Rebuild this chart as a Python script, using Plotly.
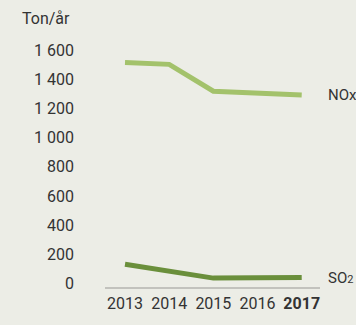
import plotly.graph_objects as go

years = [2013, 2014, 2015, 2016, 2017]
year_labels = ["2013", "2014", "2015", "2016", "<b>2017</b>"]
nox = [1518, 1505, 1320, 1310, 1294]
so2 = [130, 82, 35, 37, 39]
y_ticks = [0, 200, 400, 600, 800, 1000, 1200, 1400, 1600]

BG = "#ECEDE6"
NOX_COLOR = "#A3C26B"
SO2_COLOR = "#6A8F3B"
AXIS_COLOR = "#C2C2BD"
TEXT = "#333333"
FONT = "Roboto"

fig = go.Figure()
fig.add_trace(go.Scatter(x=years, y=nox, mode="lines",
                         line=dict(color=NOX_COLOR, width=5), hoverinfo="skip"))
fig.add_trace(go.Scatter(x=years, y=so2, mode="lines",
                         line=dict(color=SO2_COLOR, width=5), hoverinfo="skip"))

# Baseline along the bottom of the plotting area
fig.add_shape(type="line", xref="paper", yref="paper", x0=0, x1=1, y0=0, y1=0,
              line=dict(color=AXIS_COLOR, width=2), layer="above")

# Series names placed at the end of each line
fig.add_annotation(text="NOx", xref="paper", yref="y", x=1.028, y=nox[-1],
                   xanchor="left", yanchor="middle", showarrow=False,
                   font=dict(family=FONT, size=15, color=TEXT))
fig.add_annotation(text="SO<span style='font-size:11px'>2</span>", xref="paper", yref="y",
                   x=1.028, y=so2[-1], xanchor="left", yanchor="middle", showarrow=False,
                   font=dict(family=FONT, size=15, color=TEXT))
# Unit label above the y tick labels
fig.add_annotation(text="Ton/år", xref="paper", yref="paper", x=-0.153, y=1.071,
                   xanchor="right", yanchor="middle", showarrow=False,
                   font=dict(family=FONT, size=16, color=TEXT))

fig.update_layout(
    width=356, height=325,
    margin=dict(l=105, r=36, t=36, b=23),
    paper_bgcolor=BG, plot_bgcolor=BG,
    showlegend=False,
    separators=", ",
    font=dict(family=FONT, size=16, color=TEXT),
    xaxis=dict(range=[2012.547, 2017.414], tickvals=years, ticktext=year_labels,
               showgrid=False, zeroline=False, showline=False,
               ticks="", ticklabelstandoff=4, fixedrange=True),
    yaxis=dict(range=[-33, 1700], tickvals=y_ticks, tickformat=",d",
               showgrid=False, zeroline=False, showline=False, ticks="",
               ticklabelstandoff=30, fixedrange=True),
)

fig.write_html("out.html")
